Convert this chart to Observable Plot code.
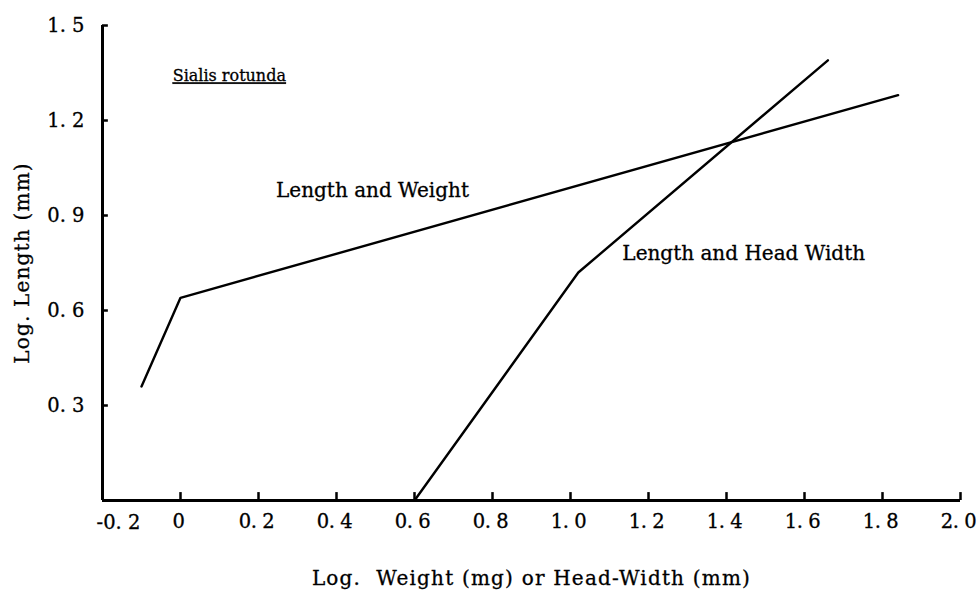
<!DOCTYPE html>
<html><head><meta charset="utf-8">
<script src="https://cdn.jsdelivr.net/npm/d3@7"></script>
<script src="https://cdn.jsdelivr.net/npm/@observablehq/plot@0.6"></script>
<style>
body{margin:0;background:#fff}
svg text {stroke:#000; stroke-width:0.3px}
g[aria-label="x-axis tick label"] text {font-size:19.5px; letter-spacing:-0.4px}
g[aria-label="y-axis tick label"] text {font-size:19.5px; letter-spacing:0px}
g[aria-label="x-axis label"] text, g[aria-label="y-axis label"] text {font-size:20px; letter-spacing:1.2px}
</style>
</head><body><div id="chart"></div>
<script>
// Length and Weight relation
const weightX = [-0.1, 0.0, 1.84];
const weightY = [0.36, 0.64, 1.28];
// Length and Head Width relation
const headX = [0.6, 1.02, 1.66];
const headY = [0.0, 0.72, 1.39];
// ticks
const xTicks = [-0.2, 0, 0.2, 0.4, 0.6, 0.8, 1.0, 1.2, 1.4, 1.6, 1.8, 2.0];
const yTicks = [0.3, 0.6, 0.9, 1.2, 1.5];
// annotations
const noteText = ["Sialis rotunda", "Length and Weight", "Length and Head Width"];
const noteX = [-0.02, 0.245, 1.133];
const noteY = [1.34, 0.98, 0.78];
const noteSize = [16, 20, 20];

const fmt = d => d === 0 ? "0" : d3.format(".1f")(d).replace(".", ". ").replace("−", "-");
const series = [
  ...weightX.map((x, i) => ({s: "w", x, y: weightY[i]})),
  ...headX.map((x, i) => ({s: "h", x, y: headY[i]}))
];
const notes = noteText.map((t, i) => ({t, x: noteX[i], y: noteY[i], f: noteSize[i]}));

const plot = Plot.plot({
  width: 977, height: 592,
  marginLeft: 102, marginRight: 17, marginTop: 25, marginBottom: 92,
  style: {fontFamily: "DejaVu Serif", fontSize: "17px", color: "#000", background: "#fff"},
  x: {domain: [-0.2, 2.0]},
  y: {domain: [0, 1.5]},
  marks: [
    Plot.axisX(xTicks.slice(1), {tickSize: 0, tickPadding: 14, tickFormat: fmt, dx: -2,
      label: "Log.  Weight (mg) or Head-Width (mm)", labelAnchor: "center", labelOffset: 84, labelArrow: "none"}),
    Plot.text(xTicks.slice(0, 1), {x: d => d, y: 0, text: fmt, dx: 16, dy: 22, fontSize: 19.5, fill: "#000"}),
    Plot.axisY(yTicks, {tickSize: 0, tickPadding: 18, tickFormat: fmt,
      label: "Log. Length (mm)", labelAnchor: "center", labelOffset: 88, labelArrow: "none"}),
    Plot.ruleX(xTicks.slice(1), {y1: 0, y2: 0.025, strokeWidth: 2.5}),
    Plot.ruleY(yTicks, {x1: -0.2, x2: -0.185, strokeWidth: 2.5}),
    Plot.ruleX([-0.2], {y1: 0, y2: 1.5, strokeWidth: 3}),
    Plot.ruleY([0], {x1: -0.2, x2: 2.0, strokeWidth: 3}),
    Plot.line(series, {x: "x", y: "y", z: "s", stroke: "#000", strokeWidth: 2.4}),
    Plot.text(notes, {x: "x", y: "y", text: "t", textAnchor: "start", fontSize: "f", fill: "#000"})
  ]
});
d3.select(plot).selectAll("text").filter(function() { return this.textContent === "Sialis rotunda"; })
  .attr("text-decoration", "underline");
document.getElementById("chart").appendChild(plot);
</script>
</body></html>
